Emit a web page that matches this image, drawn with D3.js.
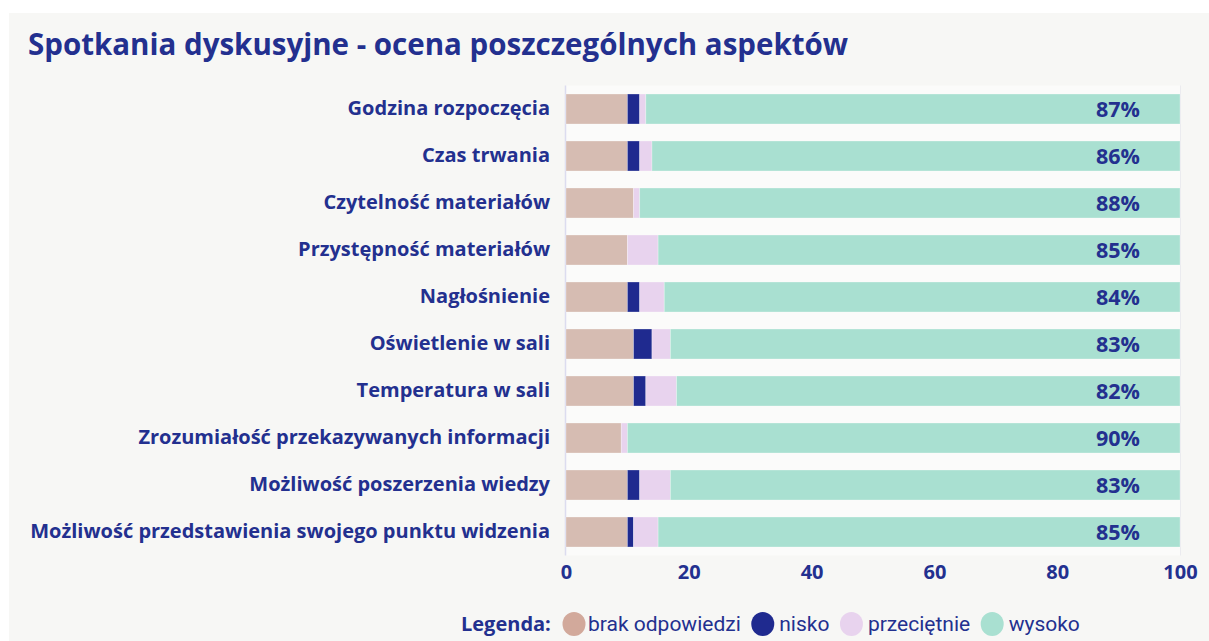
<!DOCTYPE html>
<html>
<head>
<meta charset="utf-8">
<script src="https://cdn.jsdelivr.net/npm/d3@7"></script>
<style>
  body { margin: 0; background: #fff; }
  svg { display: block; }
</style>
</head>
<body>
<svg width="1209" height="641"></svg>
<script>
var categories = [
    "Godzina rozpoczęcia",
    "Czas trwania",
    "Czytelność materiałów",
    "Przystępność materiałów",
    "Nagłośnienie",
    "Oświetlenie w sali",
    "Temperatura w sali",
    "Zrozumiałość przekazywanych informacji",
    "Możliwość poszerzenia wiedzy",
    "Możliwość przedstawienia swojego punktu widzenia"
];
var brak        = [10, 10, 11, 10, 10, 11, 11, 9, 10, 10];
var nisko       = [2, 2, 0, 0, 2, 3, 2, 0, 2, 1];
var przecietnie = [1, 2, 1, 5, 4, 3, 5, 1, 5, 4];
var wysoko      = [87, 86, 88, 85, 84, 83, 82, 90, 83, 85];
var seriesNames = ["brak odpowiedzi", "nisko", "przeciętnie", "wysoko"];
var tickValues = [0, 20, 40, 60, 80, 100];

var colors = ["#d6bcb2", "#1f2a8f", "#e8d3ee", "#a9e0d1"];
var legendColors = ["#d2a99b", "#1f2a8f", "#e8d3ee", "#a9e0d1"];
var blue = "#23308f";
var boldFont = "'Open Sans', sans-serif";

var svg = d3.select("svg");

// panel background
svg.append("rect")
    .attr("x", 9).attr("y", 13)
    .attr("width", 1200).attr("height", 628)
    .attr("fill", "#f7f7f5");

svg.append("text")
    .attr("x", 28).attr("y", 55)
    .attr("fill", blue)
    .style("font-family", boldFont)
    .style("font-weight", 700)
    .style("font-size", "29.5px")
    .text("Spotkania dyskusyjne - ocena poszczególnych aspektów");

var x = d3.scaleLinear().domain([0, 100]).range([566, 1180]);
var y = d3.scaleBand().domain(categories).range([85.5, 555.5]).paddingInner(0.362).paddingOuter(0.181);

var table = categories.map(function (c, i) {
    return { cat: c, brak: brak[i], nisko: nisko[i], przecietnie: przecietnie[i], wysoko: wysoko[i] };
});
var keys = ["brak", "nisko", "przecietnie", "wysoko"];
var stacked = d3.stack().keys(keys)(table);

// plot area background
svg.append("rect")
    .attr("x", x(0)).attr("y", y.range()[0])
    .attr("width", x(100) - x(0)).attr("height", y.range()[1] - y.range()[0])
    .attr("fill", "#fbfbfa");
svg.append("line")
    .attr("x1", x(0) - 0.5).attr("x2", x(0) - 0.5)
    .attr("y1", y.range()[0]).attr("y2", y.range()[1])
    .attr("stroke", "#dcdcef").attr("stroke-width", 1.5);
svg.append("line")
    .attr("x1", x(100) + 0.5).attr("x2", x(100) + 0.5)
    .attr("y1", y.range()[0]).attr("y2", y.range()[1])
    .attr("stroke", "#ebebef").attr("stroke-width", 1);

svg.append("g")
    .selectAll("g")
    .data(stacked)
    .enter().append("g")
    .attr("fill", function (d, i) { return colors[i]; })
    .selectAll("rect")
    .data(function (d) { return d; })
    .enter().append("rect")
    .attr("x", function (d) { return x(d[0]); })
    .attr("y", function (d) { return y(d.data.cat); })
    .attr("width", function (d) { return x(d[1]) - x(d[0]); })
    .attr("height", y.bandwidth())
    .attr("stroke", "rgba(255,255,255,0.35)")
    .attr("stroke-width", 0.8);

// percentage labels
svg.append("g")
    .selectAll("text")
    .data(table)
    .enter().append("text")
    .attr("x", 1140)
    .attr("y", function (d) { return y(d.cat) + y.bandwidth() / 2; })
    .attr("dy", "0.35em")
    .attr("text-anchor", "end")
    .attr("fill", blue)
    .style("font-family", boldFont)
    .style("font-weight", 700)
    .style("font-size", "21.5px")
    .text(function (d) { return d.wysoko + "%"; });

// category labels
var yAxis = svg.append("g")
    .attr("transform", "translate(" + (x(0) - 16) + ",0)")
    .call(d3.axisLeft(y).tickSize(0).tickPadding(0));
yAxis.select(".domain").remove();
yAxis.selectAll("text")
    .attr("fill", blue)
    .attr("dy", "0.3em")
    .style("font-family", boldFont)
    .style("font-weight", 700)
    .style("font-size", "20px");

// x axis
var xAxis = svg.append("g")
    .attr("transform", "translate(0," + (y.range()[1] - 2) + ")")
    .call(d3.axisBottom(x).tickValues(tickValues).tickSize(0).tickPadding(11));
xAxis.select(".domain").remove();
xAxis.selectAll("text")
    .attr("fill", blue)
    .style("font-family", boldFont)
    .style("font-weight", 700)
    .style("font-size", "20px");

// legend
var legend = svg.append("g").attr("transform", "translate(0,624)");
legend.append("text")
    .attr("x", 461).attr("y", 0).attr("dy", "0.35em")
    .attr("fill", blue)
    .style("font-family", boldFont)
    .style("font-weight", 700)
    .style("font-size", "20px")
    .text("Legenda:");

var cx = 574;
seriesNames.forEach(function (name, i) {
    var off = i === 0 ? 14 : 16.5;
    legend.append("ellipse")
        .attr("cx", cx).attr("cy", 0)
        .attr("rx", 11.5).attr("ry", 12)
        .attr("fill", legendColors[i]);
    var t = legend.append("text")
        .attr("x", cx + off).attr("y", 0).attr("dy", "0.35em")
        .attr("fill", blue)
        .style("font-family", "Roboto, sans-serif")
        .style("font-size", "21px")
        .text(name);
    cx += off + t.node().getComputedTextLength() + 22;
});
</script>
</body>
</html>
